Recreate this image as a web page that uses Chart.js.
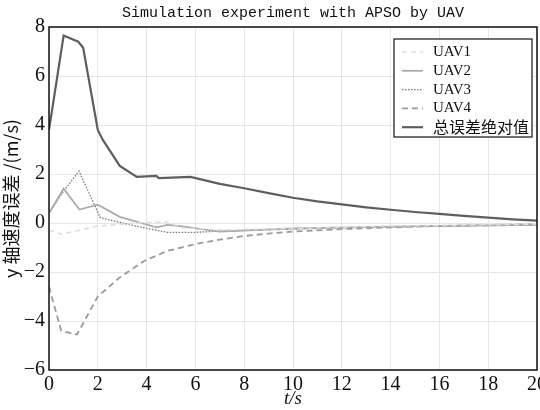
<!DOCTYPE html>
<html>
<head>
<meta charset="utf-8">
<script src="https://cdn.jsdelivr.net/npm/chart.js@4/dist/chart.umd.min.js"></script>
<style>
  html, body { margin: 0; padding: 0; background: #fff; }
  #wrap { width: 540px; height: 410px; }
</style>
</head>
<body>
<div id="wrap"><canvas id="grafico"></canvas></div>
<script>
// ==============================
// Datos
// ==============================
const seriesNames = ["UAV1", "UAV2", "UAV3", "UAV4", "总误差绝对值"];

const tUav1 = [0, 0.5, 1, 2, 3, 3.6, 4.8, 5.5, 7, 10, 14, 20];
const yUav1 = [-0.3, -0.45, -0.35, -0.12, -0.05, 0.0, 0.05, -0.2, -0.28, -0.22, -0.12, -0.05];

const tUav2 = [0, 0.6, 1.25, 2, 2.9, 4.4, 4.85, 5.3, 7, 10, 14, 20];
const yUav2 = [0.4, 1.4, 0.55, 0.75, 0.25, -0.18, -0.08, -0.12, -0.35, -0.22, -0.15, -0.08];

const tUav3 = [0, 0.6, 1.23, 2.1, 3, 4, 4.85, 6, 7, 10, 14, 20];
const yUav3 = [0.4, 1.3, 2.12, 0.22, 0.0, -0.22, -0.38, -0.38, -0.33, -0.25, -0.15, -0.08];

const tUav4 = [0, 0.5, 1.15, 2, 2.9, 3.9, 4.85, 6, 7, 8, 9, 10, 12, 14, 16, 18, 20];
const yUav4 = [-2.6, -4.4, -4.55, -3.0, -2.22, -1.55, -1.14, -0.86, -0.68, -0.53, -0.43, -0.35, -0.25, -0.18, -0.12, -0.08, -0.05];

const tTotal = [0, 0.6, 1.2, 1.4, 2, 2.2, 2.9, 3.6, 4.4, 4.5, 5.8, 7, 8, 9, 10, 11, 12, 13, 14, 15, 16, 17, 18, 19, 20];
const yTotal = [3.8, 7.65, 7.4, 7.15, 3.8, 3.4, 2.33, 1.88, 1.92, 1.83, 1.88, 1.6, 1.42, 1.22, 1.03, 0.88, 0.76, 0.64, 0.54, 0.45, 0.37, 0.29, 0.22, 0.15, 0.1];

const xTicks = [0, 2, 4, 6, 8, 10, 12, 14, 16, 18, 20];
const yTicks = [-6, -4, -2, 0, 2, 4, 6, 8];

const puntos = (ts, ys) => ts.map((t, i) => ({ x: t, y: ys[i] }));

// leyenda dentro del área del gráfico, con marco
const leyendaInterna = {
    id: "leyendaInterna",
    afterDraw(chart) {
        const ctx = chart.ctx;
        const area = chart.chartArea;
        ctx.save();
        // marco negro del área
        ctx.strokeStyle = "#111";
        ctx.lineWidth = 1.5;
        ctx.strokeRect(area.left, area.top, area.right - area.left, area.bottom - area.top);

        const x0 = area.right - 143, y0 = area.top + 12, w = 138, rowH = 18.8;
        const h = 98;
        ctx.fillStyle = "#fff";
        ctx.fillRect(x0, y0, w, h);
        ctx.strokeStyle = "#111";
        ctx.lineWidth = 1.2;
        ctx.strokeRect(x0, y0, w, h);
        ctx.textBaseline = "middle";
        chart.data.datasets.forEach((ds, i) => {
            const yy = y0 + 13 + i * rowH;
            ctx.beginPath();
            ctx.strokeStyle = ds.borderColor;
            ctx.lineWidth = ds.borderWidth;
            ctx.setLineDash(ds.borderDash || []);
            ctx.moveTo(x0 + 8, yy);
            ctx.lineTo(x0 + 29, yy);
            ctx.stroke();
            ctx.setLineDash([]);
            ctx.fillStyle = "#111";
            ctx.font = i < 4 ? "15px 'Liberation Serif', serif" : "16px 'Noto Sans CJK SC', sans-serif";
            ctx.fillText(ds.label, x0 + 39, yy);
        });
        ctx.restore();
    }
};

const ctx = document.getElementById("grafico").getContext("2d");
new Chart(ctx, {
    type: "line",
    data: {
        datasets: [
            { label: seriesNames[0], data: puntos(tUav1, yUav1), borderColor: "#dcdcdc", borderWidth: 1.5, borderDash: [5, 4] },
            { label: seriesNames[1], data: puntos(tUav2, yUav2), borderColor: "#ababab", borderWidth: 1.8 },
            { label: seriesNames[2], data: puntos(tUav3, yUav3), borderColor: "#777777", borderWidth: 1.3, borderDash: [1.5, 1.5] },
            { label: seriesNames[3], data: puntos(tUav4, yUav4), borderColor: "#9a9a9a", borderWidth: 1.8, borderDash: [6, 4] },
            { label: seriesNames[4], data: puntos(tTotal, yTotal), borderColor: "#5e5e5e", borderWidth: 2.2 }
        ].map(ds => Object.assign(ds, { pointRadius: 0, fill: false, tension: 0 }))
    },
    options: {
        responsive: true,
        maintainAspectRatio: false,
        animation: false,
        layout: { padding: { right: 3, top: 0, bottom: 0, left: 0 } },
        plugins: {
            legend: { display: false },
            tooltip: { enabled: false },
            title: {
                display: true,
                fullSize: false,
                text: "Simulation experiment with APSO by UAV",
                color: "#111",
                font: { family: "'Liberation Mono', monospace", size: 15, weight: "normal" },
                padding: { top: 4, bottom: 5 }
            }
        },
        scales: {
            x: {
                type: "linear",
                min: 0, max: 20,
                afterBuildTicks: s => { s.ticks = xTicks.map(v => ({ value: v })); },
                afterFit: s => { s.height = 40; s.paddingRight = 0; s.paddingLeft = 0; },
                grid: { color: "#e6e6e6", drawTicks: false },
                border: { display: false },
                ticks: { color: "#111", padding: 3, font: { family: "'Liberation Serif', serif", size: 20 } },
                title: {
                    display: true, text: "t/s", color: "#111", padding: { top: -5, bottom: 0 },
                    font: { family: "'Liberation Serif', serif", size: 19, style: "italic" }
                }
            },
            y: {
                min: -6, max: 8,
                afterBuildTicks: s => { s.ticks = yTicks.map(v => ({ value: v })); },
                afterFit: s => { s.width = 49; s.paddingTop = 0; s.paddingBottom = 0; },
                grid: { color: "#e6e6e6", drawTicks: false },
                border: { display: false },
                ticks: {
                    color: "#111", padding: 4,
                    font: { family: "'Liberation Serif', serif", size: 20 },
                    callback: v => (v < 0 ? "\u2212" + Math.abs(v) : String(v))
                },
                title: {
                    display: true, text: "y 轴速度误差 /(m/s)", color: "#111", padding: { top: 0, bottom: 0 },
                    font: { family: "'Noto Sans CJK SC', sans-serif", size: 18 }
                }
            }
        }
    },
    plugins: [leyendaInterna]
});
</script>
</body>
</html>
